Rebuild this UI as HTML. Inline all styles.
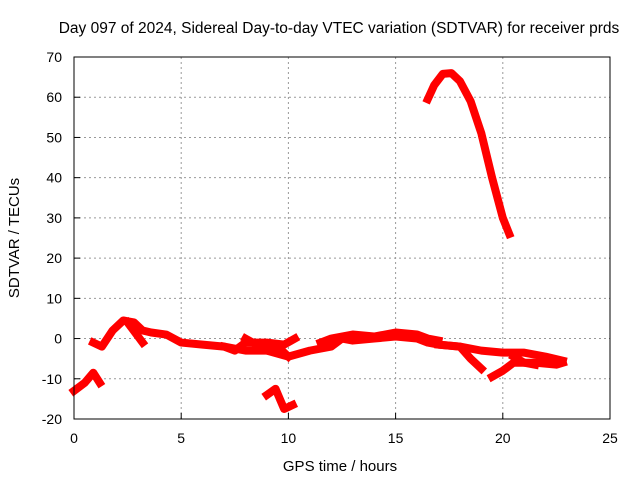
<!DOCTYPE html>
<html><head><meta charset="utf-8"><style>
body{margin:0;background:#fff}
svg text{font-family:"Liberation Sans",sans-serif;font-size:14px;fill:#000}
</style></head><body>
<svg width="640" height="480" id="svg">
<rect width="640" height="480" fill="#fff"/>
<text x="339" y="33" text-anchor="middle" style="font-size:15.5px">Day 097 of 2024, Sidereal Day-to-day VTEC variation (SDTVAR) for receiver prds</text>
<text x="340" y="471" text-anchor="middle" style="font-size:15px">GPS time / hours</text>
<text transform="translate(19,238) rotate(-90)" text-anchor="middle" style="font-size:15px">SDTVAR / TECUs</text>
<g id="grid"></g><g id="series"></g>
<rect x="74" y="57" width="536" height="362" fill="none" stroke="#000" stroke-width="1"/>
<g id="ticks"></g>
</svg>
<script>
const xTicks=[0,5,10,15,20,25];
const yTicks=[-20,-10,0,10,20,30,40,50,60,70];
const segA=[[0,-13],[0.5,-11],[0.9,-8.5],[1.2,-11]];
const segB=[[0.9,-1],[1.3,-2],[1.8,2],[2.3,4.5],[2.8,4],[3.2,2],[3.6,1.5],[4.3,1],[5,-1],[6,-1.5],[7,-2],[7.5,-3],[8,-1],[9,-1],[9.8,-1.5],[10.3,0]];
const segB2=[[2.5,4],[3.2,-1]];
const segC=[[7,-2],[8,-3],[9,-3],[10,-4.5],[11,-3],[12,-2],[12.5,0],[13,-0.5],[14,0],[15,0.5],[16,0],[16.5,-1],[17,-1.5],[18,-2],[19,-3],[20,-3.5],[21,-3.5],[22,-4.5],[22.8,-5.5]];
const segC2=[[8,0],[9,-3],[9.5,-2],[10,-4.5]];
const segC3=[[11.5,-1],[12,0],[13,1],[14,0.5],[15,1.5],[16,1],[16.5,0],[17,-0.5]];
const segD=[[17,-1.5],[18,-2],[18.5,-5],[19,-7.5]];
const segE=[[19.5,-9.5],[20,-8],[20.5,-6],[21.5,-6],[22.5,-6.5],[22.8,-6]];
const segE2=[[20.5,-4.5],[21,-6],[21.5,-6.5]];
const segF=[[9,-14],[9.4,-12.5],[9.6,-15],[9.8,-17.5],[10.2,-16.5]];
const segG=[[16.5,59.5],[16.8,63],[17.2,65.8],[17.6,66],[18,64],[18.5,59],[19,51],[19.5,40],[20,30],[20.3,26]];
const X=v=>74+v*(536/25), Y=v=>419-(v+20)*(362/90);
const NS="http://www.w3.org/2000/svg";
const grid=document.getElementById('grid'),ticks=document.getElementById('ticks'),ser=document.getElementById('series');
function mk(tag,at,p){const e=document.createElementNS(NS,tag);for(const k in at)e.setAttribute(k,at[k]);p.appendChild(e);return e;}
xTicks.forEach(t=>{
 if(t>0&&t<25){const g=mk('line',{x1:X(t),x2:X(t),y1:57,y2:419,stroke:'#999','stroke-dasharray':'2,3'},grid);
 
 }
 const tk=mk('line',{x1:X(t),x2:X(t),y1:419,y2:413,stroke:'#000'},ticks);
 
 
 const tx=mk('text',{x:X(t),y:443,'text-anchor':'middle'},ticks);tx.textContent=t;
 
 
});
yTicks.forEach(t=>{
 if(t>-20&&t<70){const g=mk('line',{x1:74,x2:610,y1:Y(t),y2:Y(t),stroke:'#999','stroke-dasharray':'2,3'},grid);
 
 }
 const tk=mk('line',{x1:74,x2:80,y1:Y(t),y2:Y(t),stroke:'#000'},ticks);
 
 
 const tx=mk('text',{x:62,y:Y(t)+5,'text-anchor':'end'},ticks);tx.textContent=t;
 
 
});
[segA,segB,segB2,segC,segC2,segC3,segD,segE,segE2,segF,segG].forEach(s=>{
 const p=mk('polyline',{points:s.map(d=>X(d[0])+','+Y(d[1])).join(' '),fill:'none',stroke:'#f00','stroke-width':8,'stroke-linejoin':'round','stroke-linecap':'square'},ser);
 
 
});
</script>
</body></html>
